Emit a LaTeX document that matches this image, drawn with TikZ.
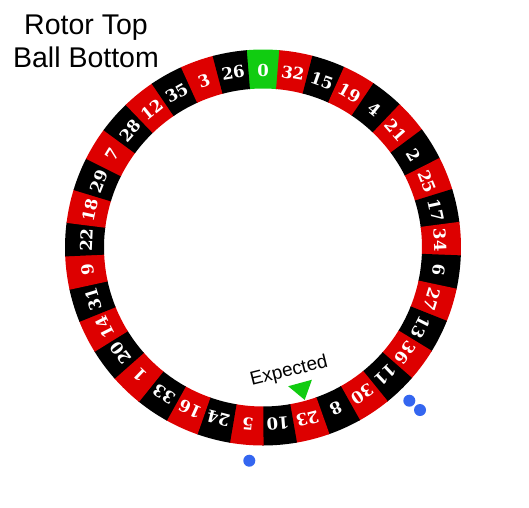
\documentclass[tikz,border=0pt]{standalone}
\usepackage{fontspec}
\newfontfamily\arialfont{Liberation Sans}
\newfontfamily\numfont{DejaVu Serif}
\begin{document}
\begin{tikzpicture}[x=1pt,y=1pt,
  num/.style={text=white,inner sep=0pt,font=\numfont\bfseries\fontsize{16.5}{16.5}\selectfont},
  titletext/.style={inner sep=0pt,anchor=base,font=\arialfont\fontsize{28.5}{28.5}\selectfont},
  labeltext/.style={inner sep=0pt,font=\arialfont\fontsize{19}{19}\selectfont},
  ball/.style={fill=wblue}]
\definecolor{wred}{RGB}{221,0,0}
\definecolor{wgreen}{RGB}{17,204,17}
\definecolor{wblue}{RGB}{52,102,240}
\useasboundingbox (0,0) rectangle (529,-507);
\fill[white] (0,0) rectangle (529,-507);
\coordinate (C) at (263,-247.5);
\def\Ro{198}
\def\Ri{159}
\def\Rt{177}
\begin{scope}[shift={(C)}]
\foreach \n [count=\i from 0] in {0,32,15,19,4,21,2,25,17,34,6,27,13,36,11,30,8,23,10,5,24,16,33,1,20,14,31,9,22,18,29,7,28,12,35,3,26} {
  \pgfmathsetmacro\ang{90-\i*360/37}
  \pgfmathsetmacro\aa{\ang-360/74-0.15}
  \pgfmathsetmacro\ab{\ang+360/74+0.15}
  \ifnum\i=0 \def\col{wgreen}\else\ifodd\i \def\col{wred}\else\def\col{black}\fi\fi
  \fill[\col] (\aa:\Ro) arc[start angle=\aa,end angle=\ab,radius=\Ro]
     -- (\ab:\Ri) arc[start angle=\ab,end angle=\aa,radius=\Ri] -- cycle;
  \node[num,rotate=\ang-90] (n\i) at (\ang:\Rt) {\n};
}
\coordinate (tip) at (-74.7:158);
\coordinate (bl) at (-79.7:141);
\coordinate (br) at (-69.7:141);
\fill[wgreen] (tip) -- (bl) -- (br) -- cycle;
\end{scope}
\node[labeltext,rotate=14] (exp) at (289,-371.5) {Expected};
\node[titletext] (t1) at (86,-34) {Rotor Top};
\node[titletext] (t2) at (86,-67) {Ball Bottom};
\fill[ball] (249.3,-460.7) circle (6);
\fill[ball] (409.3,-400.7) circle (6);
\fill[ball] (420,-410) circle (6);
\end{tikzpicture}
\end{document}
